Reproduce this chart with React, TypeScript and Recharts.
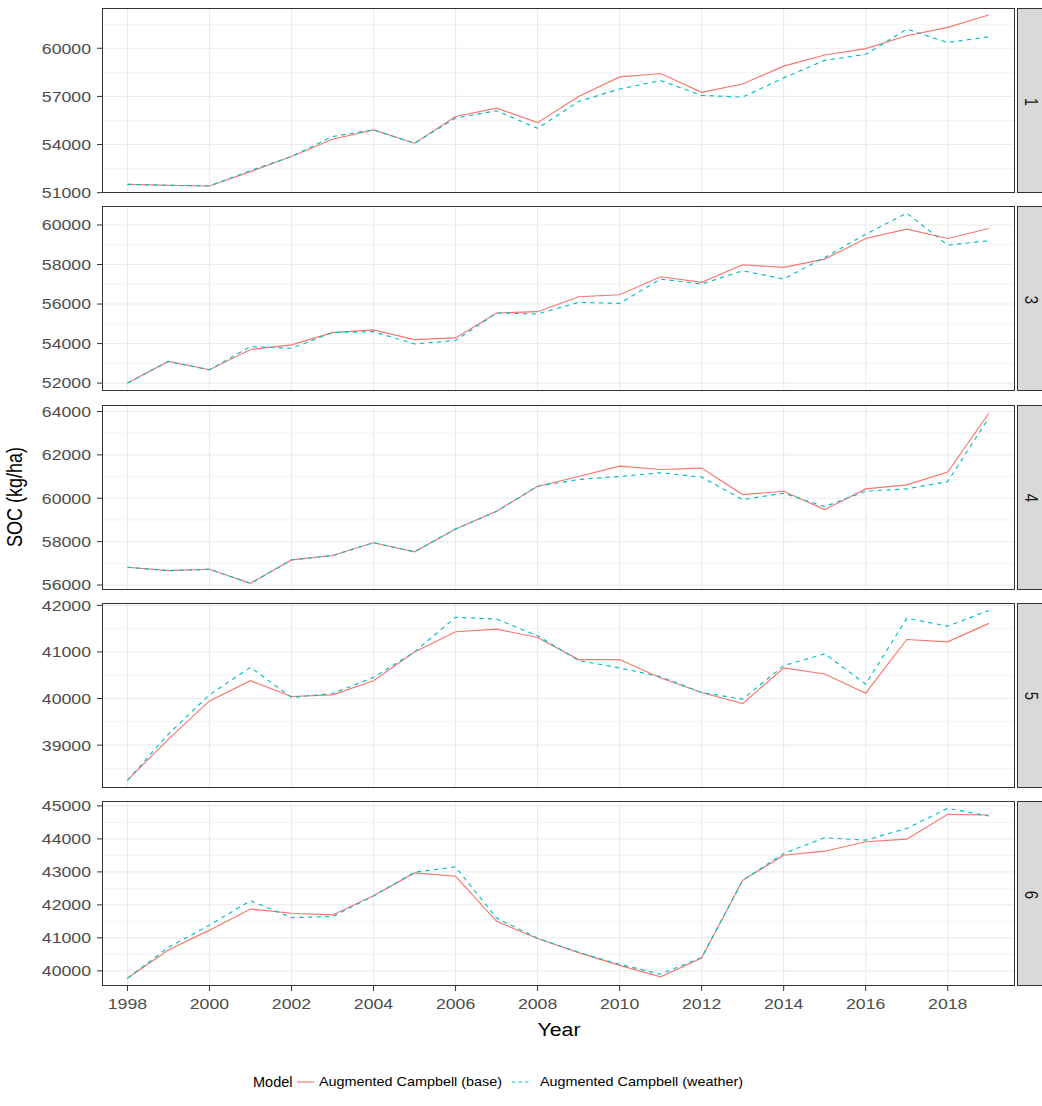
import React from "react";
import { LineChart, Line, XAxis, YAxis, ReferenceLine } from "recharts";

const years = [1998, 1999, 2000, 2001, 2002, 2003, 2004, 2005, 2006, 2007, 2008, 2009, 2010, 2011, 2012, 2013, 2014, 2015, 2016, 2017, 2018, 2019];
const xTicks = [1998, 2000, 2002, 2004, 2006, 2008, 2010, 2012, 2014, 2016, 2018];
const seriesNames = ["Augmented Campbell (base)", "Augmented Campbell (weather)"];
const facetLabels = ["1", "3", "4", "5", "6"];

const base1 = [51520, 51460, 51416, 52310, 53250, 54333, 54915, 54083, 55750, 56272, 55364, 57000, 58217, 58427, 57252, 57776, 58888, 59580, 59979, 60780, 61300, 62077];
const weather1 = [51520, 51460, 51416, 52380, 53250, 54500, 54915, 54083, 55650, 56106, 55007, 56685, 57462, 57986, 57063, 56958, 58154, 59245, 59623, 61196, 60357, 60713];
const base3 = [52000, 53095, 52674, 53697, 53933, 54556, 54690, 54202, 54286, 55549, 55613, 56370, 56471, 57381, 57095, 57987, 57852, 58273, 59318, 59790, 59318, 59823];
const weather3 = [52000, 53095, 52674, 53848, 53764, 54556, 54606, 53983, 54152, 55549, 55495, 56084, 56034, 57263, 57010, 57684, 57263, 58357, 59537, 60598, 58981, 59200];
const base4 = [56818, 56664, 56726, 56077, 57158, 57359, 57950, 57530, 58580, 59398, 60556, 61004, 61482, 61328, 61390, 60170, 60324, 59475, 60432, 60618, 61205, 63907];
const weather4 = [56818, 56664, 56726, 56077, 57158, 57359, 57950, 57530, 58580, 59398, 60556, 60865, 61004, 61174, 60973, 59938, 60232, 59614, 60324, 60432, 60772, 63706];
const base5 = [38243, 39130, 39950, 40382, 40043, 40079, 40382, 41000, 41432, 41488, 41310, 40836, 40836, 40440, 40130, 39892, 40656, 40526, 40115, 41267, 41216, 41613];
const weather5 = [38243, 39238, 40079, 40670, 40022, 40108, 40454, 41000, 41742, 41706, 41346, 40815, 40656, 40468, 40130, 39986, 40706, 40959, 40310, 41721, 41555, 41887];
const base6 = [39776, 40630, 41234, 41873, 41746, 41695, 42274, 42970, 42868, 41500, 40980, 40553, 40167, 39817, 40386, 42745, 43506, 43628, 43913, 43994, 44746, 44726];
const weather6 = [39776, 40711, 41386, 42127, 41614, 41644, 42274, 42990, 43152, 41600, 40990, 40560, 40198, 39898, 40406, 42745, 43557, 44035, 43963, 44319, 44929, 44695];

const yTicks1 = [51000, 54000, 57000, 60000];
const yMinor1 = [52500, 55500, 58500, 61500];
const yTicks3 = [52000, 54000, 56000, 58000, 60000];
const yMinor3 = [53000, 55000, 57000, 59000];
const yTicks4 = [56000, 58000, 60000, 62000, 64000];
const yMinor4 = [57000, 59000, 61000, 63000];
const yTicks5 = [39000, 40000, 41000, 42000];
const yMinor5 = [38500, 39500, 40500, 41500];
const yTicks6 = [40000, 41000, 42000, 43000, 44000, 45000];
const yMinor6 = [40500, 41500, 42500, 43500, 44500];

const panels = [
  { label: facetLabels[0], base: base1, weather: weather1, ticks: yTicks1, minor: yMinor1, domain: [50980, 62510] },
  { label: facetLabels[1], base: base3, weather: weather3, ticks: yTicks3, minor: yMinor3, domain: [51600, 60960] },
  { label: facetLabels[2], base: base4, weather: weather4, ticks: yTicks4, minor: yMinor4, domain: [55770, 64300] },
  { label: facetLabels[3], base: base5, weather: weather5, ticks: yTicks5, minor: yMinor5, domain: [38080, 42050] },
  { label: facetLabels[4], base: base6, weather: weather6, ticks: yTicks6, minor: yMinor6, domain: [39540, 45150] },
];

const RED = "#F8766D";
const CYAN = "#00BFC4";
const FONT = "'Liberation Sans', Arial, Helvetica, sans-serif";
const SX = 1.18;
const W = 1042;
const PLOT_LEFT = 102;
const PLOT_RIGHT = 1015;
const PANEL_H = 185;
const PANEL_TOP0 = 8;
const PANEL_STEP = 198.25;
const PAD = 10;
const X_DOMAIN = [1997.38, 2019.64];

const YTick = (props: any) => {
  const { x, y, payload } = props;
  return (
    <text
      x={0}
      y={0}
      dy="0.36em"
      textAnchor="end"
      fill="#4D4D4D"
      fontSize={15}
      fontFamily={FONT}
      transform={`translate(${x},${y}) scale(${SX},1)`}
    >
      {payload.value}
    </text>
  );
};

const XTick = (props: any) => {
  const { x, y, payload } = props;
  return (
    <text
      x={0}
      y={0}
      dy="0.71em"
      textAnchor="middle"
      fill="#4D4D4D"
      fontSize={15}
      fontFamily={FONT}
      transform={`translate(${x},${y}) scale(${SX},1)`}
    >
      {payload.value}
    </text>
  );
};

function Panel({ p, idx, last }: any) {
  const data = years.map((yr, i) => ({ year: yr, base: p.base[i], weather: p.weather[i] }));
  const top = PANEL_TOP0 + idx * PANEL_STEP;
  const xAxisH = last ? 40 : 0;
  const chartH = PANEL_H + xAxisH + 2 * PAD;
  return (
    <div style={{ position: "absolute", left: 0, top: top - PAD, width: W, height: chartH }}>
      <LineChart
        width={W}
        height={chartH}
        data={data}
        margin={{ top: PAD, right: W - PLOT_RIGHT, bottom: PAD, left: 0 }}
      >
        <XAxis
          dataKey="year"
          type="number"
          domain={X_DOMAIN}
          ticks={xTicks}
          allowDataOverflow
          hide={!last}
          height={xAxisH}
          axisLine={false}
          tickLine={{ stroke: "#333333", strokeWidth: 1 }}
          tickSize={5}
          tickMargin={7}
          tick={<XTick />}
          interval={0}
        />
        <YAxis
          type="number"
          domain={p.domain}
          ticks={p.ticks}
          allowDataOverflow
          width={PLOT_LEFT}
          axisLine={false}
          tickLine={{ stroke: "#333333", strokeWidth: 1 }}
          tickSize={5}
          tickMargin={6}
          tick={<YTick />}
          interval={0}
        />
        {p.minor.map((v: number) => (
          <ReferenceLine key={"m" + v} y={v} stroke="#EBEBEB" strokeWidth={0.6} />
        ))}
        {p.ticks.map((v: number) => (
          <ReferenceLine key={"M" + v} y={v} stroke="#EBEBEB" strokeWidth={1.1} />
        ))}
        {xTicks.map((v: number) => (
          <ReferenceLine key={"x" + v} x={v} stroke="#EBEBEB" strokeWidth={1.1} />
        ))}
        <Line
          type="linear"
          dataKey="base"
          name={seriesNames[0]}
          stroke={RED}
          strokeWidth={1.15}
          dot={false}
          isAnimationActive={false}
        />
        <Line
          type="linear"
          dataKey="weather"
          name={seriesNames[1]}
          stroke={CYAN}
          strokeWidth={1.15}
          strokeDasharray="4.3 4.3"
          dot={false}
          isAnimationActive={false}
        />
      </LineChart>
      <div
        style={{
          position: "absolute",
          left: PLOT_LEFT,
          top: PAD,
          width: PLOT_RIGHT - PLOT_LEFT,
          height: PANEL_H,
          border: "1.2px solid #333333",
          boxSizing: "border-box",
          pointerEvents: "none",
        }}
      />
      <div
        style={{
          position: "absolute",
          left: PLOT_RIGHT + 2,
          top: PAD,
          width: 40,
          height: PANEL_H,
          background: "#D9D9D9",
          border: "1.2px solid #333333",
          boxSizing: "border-box",
        }}
      >
        <div
          style={{
            position: "absolute",
            left: 12.5,
            top: PANEL_H / 2,
            transform: "translate(-50%,-50%) rotate(90deg) scale(1,1.18)",
            fontFamily: FONT,
            fontSize: 15,
            color: "#1A1A1A",
            lineHeight: 1,
          }}
        >
          {p.label}
        </div>
      </div>
    </div>
  );
}

function Legend() {
  const y = 1082;
  const tr = (x: number, s: number) => `translate(${x},${y}) scale(${s},1) translate(${-x},${-y})`;
  return (
    <svg style={{ position: "absolute", left: 0, top: 0 }} width={W} height={1106}>
      <text x={253} y={y} dy="0.36em" fontSize={14.5} fontFamily={FONT} fill="#000">
        Model
      </text>
      <line x1={297} x2={314} y1={y} y2={y} stroke={RED} strokeWidth={1.2} />
      <text x={319} y={y} dy="0.36em" fontSize={12.2} fontFamily={FONT} fill="#000" transform={tr(319, SX)}>
        {seriesNames[0]}
      </text>
      <line x1={512} x2={530} y1={y} y2={y} stroke={CYAN} strokeWidth={1.2} strokeDasharray="3.5 3" />
      <text x={540} y={y} dy="0.36em" fontSize={12.2} fontFamily={FONT} fill="#000" transform={tr(540, SX)}>
        {seriesNames[1]}
      </text>
    </svg>
  );
}

export default function App() {
  return (
    <div style={{ position: "absolute", left: 0, top: 0, width: W, height: 1106, overflow: "hidden", background: "#fff" }}>
      <Legend />
      {panels.map((p, i) => (
        <Panel key={p.label} p={p} idx={i} last={i === panels.length - 1} />
      ))}
      <div
        style={{
          position: "absolute",
          left: (PLOT_LEFT + PLOT_RIGHT) / 2,
          top: 1030,
          transform: `translate(-50%,-50%) scale(${SX},1)`,
          fontFamily: FONT,
          fontSize: 18,
          color: "#000",
          lineHeight: 1,
          whiteSpace: "nowrap",
        }}
      >
        Year
      </div>
      <div
        style={{
          position: "absolute",
          left: 15,
          top: 497,
          transform: `translate(-50%,-50%) rotate(-90deg) scale(1,${SX})`,
          fontFamily: FONT,
          fontSize: 18,
          color: "#000",
          lineHeight: 1,
          whiteSpace: "nowrap",
        }}
      >
        SOC (kg/ha)
      </div>
    </div>
  );
}
